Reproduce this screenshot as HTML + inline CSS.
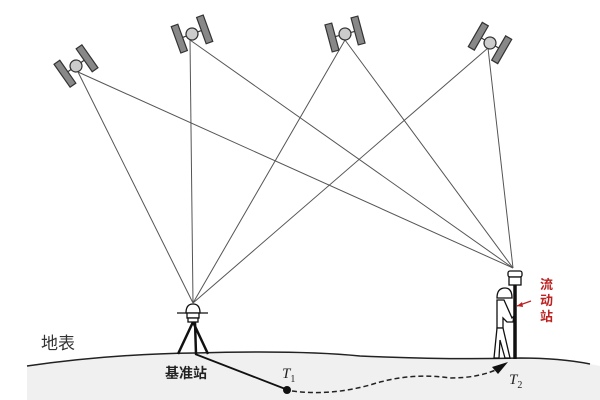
<!DOCTYPE html>
<html><head><meta charset="utf-8"><style>
html,body{margin:0;padding:0;background:#fff;width:600px;height:400px;overflow:hidden}
</style></head><body>
<svg width="600" height="400" viewBox="0 0 600 400" xmlns="http://www.w3.org/2000/svg">
<defs>
<g id="sat">
<rect x="-17" y="-14" width="7" height="28" fill="#888" stroke="#333" stroke-width="1.2"/>
<rect x="10" y="-14" width="7" height="28" fill="#888" stroke="#333" stroke-width="1.2"/>
<line x1="-10" y1="0" x2="10" y2="0" stroke="#333" stroke-width="1.2"/>
<circle r="6" fill="#ccc" stroke="#333" stroke-width="1.2"/>
</g>
</defs>
<path d="M27,366 Q110,354 195,353 Q300,350 360,356 Q450,360 520,358 Q560,358 590,364 L600,366 L600,400 L27,400 Z" fill="#f0f0f0"/>
<path d="M27,366 Q110,354 195,353 Q300,350 360,356 Q450,360 520,358 Q560,358 590,364" fill="none" stroke="#222" stroke-width="1.5"/>
<g stroke="#555" stroke-width="1">
<line x1="78" y1="72" x2="193" y2="303"/><line x1="78" y1="72" x2="513" y2="268"/>
<line x1="190" y1="40" x2="193" y2="303"/><line x1="190" y1="40" x2="513" y2="268"/>
<line x1="345" y1="40" x2="193" y2="303"/><line x1="345" y1="40" x2="513" y2="268"/>
<line x1="488" y1="48" x2="193" y2="303"/><line x1="488" y1="48" x2="513" y2="268"/>
</g>
<use href="#sat" transform="translate(76,66) rotate(-35)"/>
<use href="#sat" transform="translate(192,34) rotate(-20)"/>
<use href="#sat" transform="translate(345,34) rotate(-15)"/>
<use href="#sat" transform="translate(490,43) rotate(30)"/>
<!-- base station -->
<g stroke="#111" fill="#fff" stroke-width="1.3">
<line x1="177" y1="313" x2="208" y2="313"/>
<path d="M186,313 Q186,304 193,304 Q200,304 200,313 Z"/>
<rect x="187" y="313" width="12" height="5"/>
<rect x="188" y="318" width="10" height="4"/>
<line x1="193" y1="322" x2="178" y2="354" stroke-width="2.5"/>
<line x1="193" y1="322" x2="208" y2="354" stroke-width="2.5"/>
<line x1="195" y1="322" x2="196" y2="354" stroke-width="2.5"/>
</g>
<line x1="195" y1="354" x2="288" y2="390" stroke="#111" stroke-width="1.8"/>
<circle cx="287" cy="390" r="4" fill="#111"/>
<path d="M292,391 Q330,396 370,385 Q410,372 450,378 Q480,378 500,368" fill="none" stroke="#222" stroke-width="1.5" stroke-dasharray="5,3"/>
<path d="M492,367 L508,362 L498,374 Z" fill="#111"/>
<!-- rover -->
<g stroke="#111" fill="#fff" stroke-width="1.3">
<line x1="515" y1="285" x2="515" y2="359" stroke-width="3.5"/>
<rect x="508" y="271" width="14" height="6" rx="2"/>
<rect x="509" y="277" width="12" height="8"/>
<path d="M497,298 Q497,288 505,288 Q512,288 512,298 Z"/>
<path d="M497,300 L504,300 L512,318 L514,316 L513,322 L507,322 L503,318 L503,328 L497,328 Z"/>
<path d="M497,328 L503,328 L510,358 L505,358 L500,340 L499,358 L494,358 Z"/>
</g>
<line x1="517" y1="306" x2="531" y2="301" stroke="#b22" stroke-width="1.2"/>
<path d="M517,306 L522,302 L523,307 Z" fill="#b22"/>
<g font-family="Liberation Sans, Noto Sans CJK SC, sans-serif">
<text x="540" y="289" font-size="13" fill="#b22" font-weight="bold">流</text>
<text x="540" y="305" font-size="13" fill="#b22" font-weight="bold">动</text>
<text x="540" y="321" font-size="13" fill="#b22" font-weight="bold">站</text>
<text x="41" y="349" font-size="17" fill="#333">地表</text>
<text x="165" y="378" font-size="14" font-weight="bold" fill="#222">基准站</text>
</g>
<g font-family="Liberation Serif, serif" font-style="italic" font-size="15" fill="#222">
<text x="282" y="378">T<tspan font-size="10" font-style="normal" dy="4">1</tspan></text>
<text x="509" y="384">T<tspan font-size="10" font-style="normal" dy="4">2</tspan></text>
</g>
</svg>
</body></html>
